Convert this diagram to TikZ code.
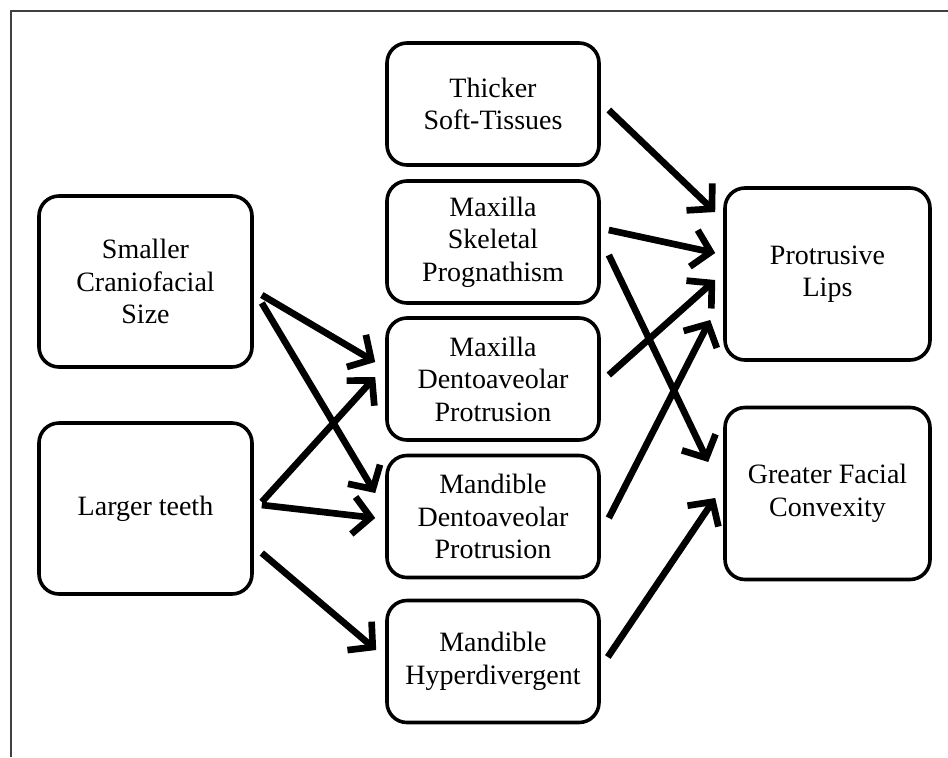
\documentclass[tikz,border=0pt]{standalone}
\usepackage{fontspec}
\setmainfont{Liberation Serif}
\usetikzlibrary{arrows.meta}
\begin{document}
\begin{tikzpicture}[x=0.75pt,y=-0.75pt,
  box/.style={draw=black, line width=2.7pt, rounded corners=15pt, align=center, inner sep=0pt, font=\fontsize{21}{24.4}\selectfont},
  leftbox/.style={box, minimum width=159.75pt, minimum height=128.25pt},
  midbox/.style={box, minimum width=159pt, minimum height=91.5pt},
  rightbox/.style={box, minimum width=153.75pt, minimum height=129pt},
  arr/.style={line width=5pt, -{Straight Barb[length=13pt,width=28pt,line width=5pt]}},
  frame/.style={line width=1.1pt, draw=black!75}
]
\useasboundingbox (0,0) rectangle (948,757);
% frame
\coordinate (fbl) at (11,757);
\coordinate (ftl) at (11,11);
\coordinate (ftr) at (948,11);
\draw[frame] (fbl) -- (ftl) -- (ftr);
% left column
\node[leftbox] (small) at (145.5,281.5) {Smaller\\Craniofacial\\Size};
\node[leftbox] (large) at (145.5,508.5) {Larger teeth};
% middle column
\node[midbox] (thick) at (493,104) {Thicker\\Soft-Tissues};
\node[midbox] (mskel) at (493,242) {Maxilla\\Skeletal\\Prognathism};
\node[midbox] (mdento) at (493,379) {Maxilla\\Dentoaveolar\\Protrusion};
\node[midbox] (ddento) at (493,516.5) {Mandible\\Dentoaveolar\\Protrusion};
\node[midbox] (hyper) at (493,661.5) {Mandible\\Hyperdivergent};
% right column
\node[rightbox] (lips) at (827.5,274) {Protrusive\\Lips};
\node[rightbox] (convex) at (827.5,493.5) {Greater Facial\\Convexity};
% arrows left -> middle
\draw[arr] ([shift={(8,13.5)}]small.east) -- ([shift={(-10,-17)}]mdento.west);
\draw[arr] ([shift={(8,21.5)}]small.east) -- ([shift={(-10,-23.5)}]ddento.west);
\draw[arr] ([shift={(8,-6.5)}]large.east) -- ([shift={(-10,-2)}]mdento.west);
\draw[arr] ([shift={(8,-3.5)}]large.east) -- ([shift={(-10,1.5)}]ddento.west);
\draw[arr] ([shift={(8,44.5)}]large.east) -- ([shift={(-9,-11.5)}]hyper.west);
% arrows middle -> right
\draw[arr] ([shift={(8,6)}]thick.east) -- ([shift={(-8,-62)}]lips.west);
\draw[arr] ([shift={(8,-12)}]mskel.east) -- ([shift={(-8,-21)}]lips.west);
\draw[arr] ([shift={(8,13)}]mskel.east) -- ([shift={(-15,-31.5)}]convex.west);
\draw[arr] ([shift={(8,-4)}]mdento.east) -- ([shift={(-8,6)}]lips.west);
\draw[arr] ([shift={(8,1.5)}]ddento.east) -- ([shift={(-13,46)}]lips.west);
\draw[arr] ([shift={(7,-4.5)}]hyper.east) -- ([shift={(-8,4.5)}]convex.west);
\end{tikzpicture}
\end{document}
